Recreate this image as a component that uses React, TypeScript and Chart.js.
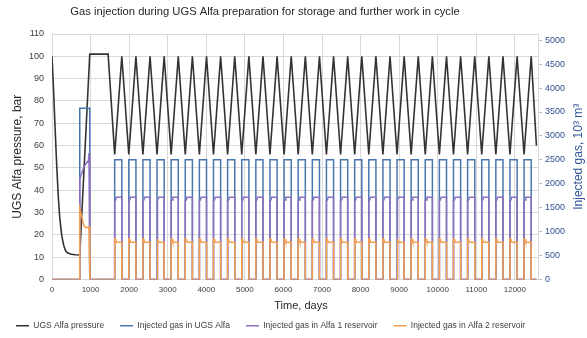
import React, { useEffect, useRef } from "react";
import { Chart, registerables } from "chart.js";
Chart.register(...registerables);

const FONT = '"Liberation Sans", Arial, sans-serif';

// ---- texts ----
const chartTitle = "Gas injection during UGS Alfa preparation for storage and further work in cycle";
const xTitle = "Time, days";
const leftTitle = "UGS Alfa pressure, bar";
const rightTitleText = "Injected gas, 10³ m³";

// ---- axis ticks ----
const xTicks = [0, 1000, 2000, 3000, 4000, 5000, 6000, 7000, 8000, 9000, 10000, 11000, 12000];
const leftTicks = [0, 10, 20, 30, 40, 50, 60, 70, 80, 90, 100, 110];
const rightTicks = [0, 500, 1000, 1500, 2000, 2500, 3000, 3500, 4000, 4500, 5000];
const X_MAX = 12600;
const Y2_MAX = 5130;

// ---- UGS Alfa pressure, bar (preparation stage) ----
const earlyPressureDays = [0, 40, 80, 120, 160, 200, 250, 300, 350, 400, 500, 600, 720, 979, 1455];
const earlyPressure = [100, 85, 68, 52, 38, 28, 20, 15.5, 13, 12, 11.3, 11.1, 11, 101, 101];

// ---- cyclic operation: start of injection (pressure minimum) and end (pressure maximum) ----
const cycleTroughDays = [1625, 1991, 2357, 2723, 3089, 3455, 3821, 4187, 4553, 4919, 5285, 5651, 6017, 6383, 6749, 7115, 7481, 7847, 8213, 8579, 8945, 9311, 9677, 10043, 10409, 10775, 11141, 11507, 11873, 12239];
const cyclePeakDays = [1810, 2176, 2542, 2908, 3274, 3640, 4006, 4372, 4738, 5104, 5470, 5836, 6202, 6568, 6934, 7300, 7666, 8032, 8398, 8764, 9130, 9496, 9862, 10228, 10594, 10960, 11326, 11692, 12058, 12424];
const troughPressure = 56;
const peakPressure = 100;
const finalDay = 12560;
const finalPressure = 60;

// ---- injected gas, 10^3 m^3 (preparation stage) ----
const blueEarlyDays = [720, 720, 979, 979];
const blueEarly = [0, 3580, 3580, 0];
const purpleEarlyDays = [720, 720, 826, 878, 944, 960, 979, 979];
const purpleEarly = [0, 2100, 2350, 2420, 2480, 2640, 2640, 0];
const orangeEarlyDays = [720, 720, 744, 826, 878, 960, 979, 979];
const orangeEarly = [0, 1480, 1400, 1130, 1080, 1100, 1100, 0];

// ---- injected gas during each cycle (days after cycle start, level) ----
const blueCycleOffsets = [0];
const blueCycle = [2500];
const purpleCycleOffsets = [0, 25, 45];
const purpleCycle = [1650, 1660, 1720];
const orangeCycleOffsets = [0, 25, 45];
const orangeCycle = [850, 840, 780];

type P = { x: number; y: number };

function buildPressure(): P[] {
  const pts: P[] = earlyPressureDays.map((d, i) => ({ x: d, y: earlyPressure[i] }));
  cycleTroughDays.forEach((t, i) => {
    pts.push({ x: t, y: troughPressure });
    pts.push({ x: cyclePeakDays[i], y: peakPressure });
  });
  pts.push({ x: finalDay, y: finalPressure });
  return pts;
}

function buildInjection(eDays: number[], eVals: number[], offs: number[], lv: number[]): P[] {
  const pts: P[] = [{ x: 0, y: 0 }];
  eDays.forEach((d, i) => pts.push({ x: d, y: eVals[i] }));
  cycleTroughDays.forEach((t, i) => {
    const p = cyclePeakDays[i];
    pts.push({ x: t, y: 0 });
    offs.forEach((o, j) => pts.push({ x: t + o, y: lv[j] }));
    pts.push({ x: p, y: lv[lv.length - 1] });
    pts.push({ x: p, y: 0 });
  });
  pts.push({ x: finalDay, y: 0 });
  return pts;
}

const textPlugin = {
  id: "textPlugin",
  afterDraw(chart: any) {
    const { ctx, chartArea } = chart;
    ctx.save();
    ctx.textAlign = "center";
    ctx.textBaseline = "middle";
    // chart title
    ctx.font = `11.2px ${FONT}`;
    ctx.fillStyle = "#262626";
    ctx.fillText(chartTitle, 265, 12);
    // x axis title
    ctx.font = `11px ${FONT}`;
    ctx.fillText(xTitle, 301, 306);
    // right axis title
    ctx.translate(579, (chartArea.top + chartArea.bottom) / 2);
    ctx.rotate(-Math.PI / 2);
    ctx.font = `12px ${FONT}`;
    ctx.fillStyle = "#2f5597";
    ctx.fillText(rightTitleText, 0, 0);
    ctx.restore();
  },
};

const plain = (v: any) => String(v);

export default function App() {
  const ref = useRef<HTMLCanvasElement>(null);
  useEffect(() => {
    const canvas = ref.current!;
    Chart.defaults.font.family = FONT;
    const chart = new Chart(canvas, {
      type: "line",
      data: {
        datasets: [
          {
            label: "UGS Alfa pressure",
            data: buildPressure(),
            borderColor: "#333333",
            backgroundColor: "#333333",
            borderWidth: 1.6,
            pointRadius: 0,
            yAxisID: "y",
            order: 3,
          },
          {
            label: "Injected gas in UGS Alfa",
            data: buildInjection(blueEarlyDays, blueEarly, blueCycleOffsets, blueCycle),
            borderColor: "#4a76b0",
            backgroundColor: "#4a76b0",
            borderWidth: 1.5,
            pointRadius: 0,
            yAxisID: "y2",
            order: 2,
          },
          {
            label: "Injected gas in Alfa 1 reservoir",
            data: buildInjection(purpleEarlyDays, purpleEarly, purpleCycleOffsets, purpleCycle),
            borderColor: "#8b6fc0",
            backgroundColor: "#8b6fc0",
            borderWidth: 1.5,
            pointRadius: 0,
            yAxisID: "y2",
            order: 1,
          },
          {
            label: "Injected gas in Alfa 2 reservoir",
            data: buildInjection(orangeEarlyDays, orangeEarly, orangeCycleOffsets, orangeCycle),
            borderColor: "#f5a050",
            backgroundColor: "#f5a050",
            borderWidth: 1.5,
            pointRadius: 0,
            yAxisID: "y2",
            order: 0,
          },
        ],
      },
      options: {
        responsive: false,
        animation: false,
        devicePixelRatio: 1,
        layout: { padding: { left: 0, right: 0, top: 34, bottom: -2 } },
        plugins: {
          tooltip: { enabled: false },
          title: { display: false },
          legend: {
            position: "bottom",
            align: "start",
            labels: {
              usePointStyle: true,
              pointStyle: "line",
              pointStyleWidth: 13,
              boxHeight: 8,
              font: { size: 8.5, family: FONT },
              color: "#404040",
              padding: 16,
              sort: (a: any, b: any) => a.datasetIndex - b.datasetIndex,
            },
          },
        },
        scales: {
          x: {
            type: "linear",
            min: 0,
            max: X_MAX,
            afterBuildTicks: (s: any) => {
              s.ticks = xTicks.map((v) => ({ value: v }));
            },
            ticks: { font: { size: 8 }, color: "#404040", padding: 5, maxRotation: 0, autoSkip: false, callback: plain },
            grid: { color: "#d9d9d9", drawTicks: false },
            border: { color: "#d9d9d9" },
            title: { display: false },
            afterFit: (s: any) => {
              s.height = 26;
            },
          },
          y: {
            type: "linear",
            position: "left",
            min: 0,
            max: 110,
            afterBuildTicks: (s: any) => {
              s.ticks = leftTicks.map((v) => ({ value: v }));
            },
            ticks: { font: { size: 9 }, color: "#404040", padding: 8, callback: plain },
            grid: { color: "#d9d9d9", drawTicks: false },
            border: { color: "#d9d9d9" },
            title: { display: true, text: leftTitle, font: { size: 12 }, color: "#262626", padding: { top: 10, bottom: 0 } },
            afterFit: (s: any) => {
              s.width = 52;
            },
          },
          y2: {
            type: "linear",
            position: "right",
            min: 0,
            max: Y2_MAX,
            afterBuildTicks: (s: any) => {
              s.ticks = rightTicks.map((v) => ({ value: v }));
            },
            ticks: { font: { size: 9 }, color: "#2f4f8f", padding: 3, callback: plain },
            grid: { drawOnChartArea: false, drawTicks: true, tickLength: 4, color: "#bfbfbf" },
            border: { color: "#d9d9d9" },
            afterFit: (s: any) => {
              s.width = 49;
            },
          },
        },
      },
      plugins: [textPlugin],
    } as any);
    return () => chart.destroy();
  }, []);
  return (
    <canvas
      ref={ref}
      width={587}
      height={338}
      style={{ position: "fixed", left: 0, top: 0, width: 587, height: 338 }}
    />
  );
}
